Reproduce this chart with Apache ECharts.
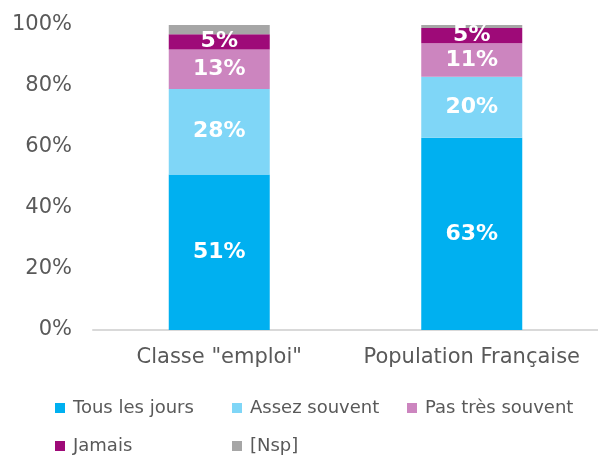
<!DOCTYPE html>
<html>
<head>
<meta charset="utf-8">
<script src="https://cdn.jsdelivr.net/npm/echarts@6/dist/echarts.min.js"></script>
<style>
  html, body { margin: 0; padding: 0; background: #fff; }
  #chart { width: 598px; height: 455px; }
</style>
</head>
<body>
<div id="chart"></div>
<script>
// Categories and stacked shares (percent)
const categories = ['Classe "emploi"', 'Population Française'];
const seriesNames = ['Tous les jours', 'Assez souvent', 'Pas très souvent', 'Jamais', '[Nsp]'];
const tousLesJours = [51, 63];
const assezSouvent = [28, 20];
const pasTresSouvent = [13, 11];
const jamais = [5, 5];
const nsp = [3, 1];
const yTicks = [0, 20, 40, 60, 80, 100];

const colors = ['#00B0F0', '#7FD6F7', '#CC85BF', '#9E0A78', '#A6A6A6'];
const values = [tousLesJours, assezSouvent, pasTresSouvent, jamais, nsp];
const font = 'Verdana, "DejaVu Sans", sans-serif';

const chart = echarts.init(document.getElementById('chart'), null, { renderer: 'canvas' });

const series = seriesNames.map((name, i) => ({
  name: name,
  type: 'bar',
  stack: 'total',
  barWidth: '40%',
  data: values[i],
  itemStyle: { color: colors[i] },
  label: {
    show: i < 4,
    position: 'inside',
    color: '#fff',
    fontFamily: font,
    fontWeight: 'bold',
    fontSize: 22,
    formatter: p => p.value + '%'
  }
}));

// One legend per item so the two-row column layout lines up
const legendPos = [
  { left: 55, top: 399 },
  { left: 232, top: 399 },
  { left: 407, top: 399 },
  { left: 55, top: 437 },
  { left: 232, top: 437 }
];
const legends = seriesNames.map((name, i) => ({
  data: [name],
  left: legendPos[i].left,
  top: legendPos[i].top,
  itemWidth: 10,
  itemHeight: 10,
  icon: 'rect',
  padding: 0,
  textStyle: { color: '#595959', fontFamily: font, fontSize: 18, padding: [0, 0, 0, 3] },
  selectedMode: false
}));

chart.setOption({
  animation: false,
  grid: { left: 93, right: -5, top: 25, bottom: 125, containLabel: false },
  legend: legends,
  xAxis: {
    type: 'category',
    data: categories,
    axisLine: { lineStyle: { color: '#D9D9D9', width: 2 } },
    axisTick: { show: false },
    axisLabel: { color: '#595959', fontFamily: font, fontSize: 21, margin: 17, interval: 0, hideOverlap: false }
  },
  yAxis: {
    type: 'value',
    min: yTicks[0],
    max: yTicks[yTicks.length - 1],
    interval: yTicks[1] - yTicks[0],
    splitLine: { show: false },
    axisLine: { show: false },
    axisTick: { show: false },
    axisLabel: { color: '#595959', fontFamily: font, fontSize: 21, margin: 21, formatter: v => v + '%' }
  },
  series: series
});
</script>
</body>
</html>
